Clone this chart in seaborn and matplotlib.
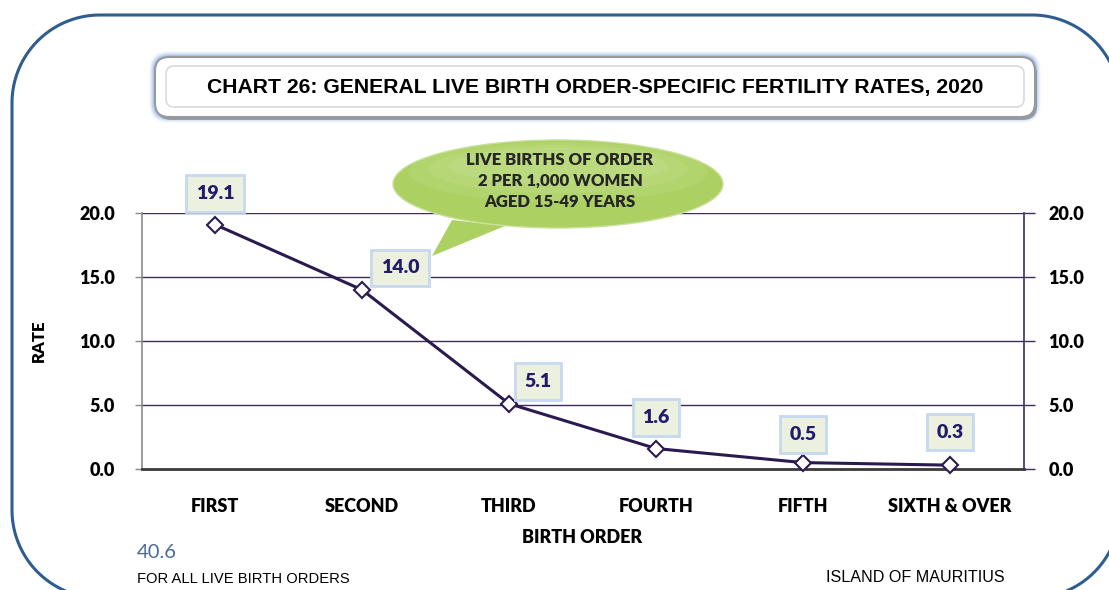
import matplotlib
matplotlib.use("Agg")
import matplotlib.pyplot as plt
from matplotlib.patches import FancyBboxPatch, Ellipse, Polygon
from matplotlib.transforms import Affine2D
import seaborn as sns
import numpy as np

# ---- data ----
birth_orders = ["FIRST", "SECOND", "THIRD", "FOURTH", "FIFTH", "SIXTH & OVER"]
rates = [19.1, 14.0, 5.1, 1.6, 0.5, 0.3]
y_ticks = [0.0, 5.0, 10.0, 15.0, 20.0]
total_rate = "40.6"

title = "CHART 26: GENERAL LIVE BIRTH ORDER-SPECIFIC FERTILITY RATES, 2020"
bubble_lines = "LIVE BIRTHS OF ORDER\n2 PER 1,000 WOMEN\nAGED 15-49 YEARS"

# label offsets (pixels) relative to each marker
label_offsets = [(0, 31), (38, 22), (29, 22), (0, 31), (0, 28), (0, 33)]

W, H = 1109, 590
LINE = "#2b1a4f"
GRID = "#3d2c5c"
LABEL = "#221a6b"
FONT = "Lato"

sns.set_theme(style="white")
plt.rcParams["font.family"] = [FONT, "DejaVu Sans"]

fig = plt.figure(figsize=(W / 100, H / 100), dpi=100)
fig.patch.set_facecolor("white")

# transform in figure pixels, origin top-left
PX = Affine2D().scale(1 / W, -1 / H).translate(0, 1) + fig.transFigure


def rounded_rect(x0, y0, x1, y1, r, n=60):
    """Closed outline of a rounded rectangle in pixel coordinates (y downward)."""
    pts = []
    corners = [(x0 + r, y0 + r, 180, 270), (x1 - r, y0 + r, 270, 360),
               (x1 - r, y1 - r, 0, 90), (x0 + r, y1 - r, 90, 180)]
    for cx, cy, a0, a1 in corners:
        t = np.radians(np.linspace(a0, a1, n))
        pts.extend(zip(cx + r * np.cos(t), cy + r * np.sin(t)))
    return np.array(pts)


# ---- outer rounded frame ----
frame = Polygon(rounded_rect(12, 15, 1120, 598, 88), closed=True, transform=PX,
                facecolor="none", edgecolor="#2f5d8f", lw=2.2, joinstyle="round", zorder=0)
fig.patches.append(frame)

# ---- title box with soft blue glow ----
for i, a in enumerate([0.05, 0.08, 0.12, 0.17, 0.22]):
    g = 6 - i
    glow = FancyBboxPatch((155 - g, 57 - g), 880 + 2 * g, 60 + 2 * g,
                          boxstyle=f"round,pad=0,rounding_size={14 + g}", transform=PX,
                          facecolor="#5f95dc", edgecolor="none", alpha=a, zorder=1)
    fig.patches.append(glow)
shadow = FancyBboxPatch((157, 60), 880, 60, boxstyle="round,pad=0,rounding_size=14",
                        transform=PX, facecolor="#7a7a7a", edgecolor="none", alpha=0.6, zorder=1)
fig.patches.append(shadow)
outer = FancyBboxPatch((155, 57), 880, 60, boxstyle="round,pad=0,rounding_size=14",
                       transform=PX, facecolor="white", edgecolor="#9a9a9a", lw=1.5, zorder=2)
fig.patches.append(outer)
inner = FancyBboxPatch((166, 66), 858, 41, boxstyle="round,pad=0,rounding_size=8",
                       transform=PX, facecolor="white", edgecolor="#dadada", lw=1.2, zorder=3)
fig.patches.append(inner)
fig.text(595 / W, 1 - 88 / H, title, ha="center", va="center", fontsize=15.2,
         fontweight="bold", color="black", family=["Liberation Sans", "DejaVu Sans"], zorder=4)

# ---- main axes ----
ax = fig.add_axes([141.5 / W, 121 / H, 882 / W, 256 / H])
ax.set_facecolor("none")
sns.lineplot(x=birth_orders, y=rates, ax=ax, color=LINE, lw=2.2, marker="D", markersize=8,
             markerfacecolor="white", markeredgecolor=LINE, markeredgewidth=1.5, zorder=5,
             clip_on=False)
ax.set_xlim(-0.5, len(birth_orders) - 0.5)
ax.set_ylim(0, 20)
ax.set_yticks(y_ticks)
ax.set_yticklabels([f"{v:.1f}" for v in y_ticks], fontsize=13, fontweight="heavy", color="black")
ax.set_xticks(range(len(birth_orders)))
ax.set_xticklabels(birth_orders, fontsize=13, fontweight="heavy", color="black")
ax.tick_params(axis="x", length=0, pad=21)
ax.tick_params(axis="y", length=5, width=1, color="#8a8a8a", direction="out", pad=14, left=True)
ax.grid(False)
for v in y_ticks[1:]:
    ax.axhline(v, color=GRID, lw=1.0, zorder=1)
for s in ["top", "right"]:
    ax.spines[s].set_visible(False)
ax.spines["left"].set_color("#8a8a8a")
ax.spines["left"].set_linewidth(1.2)
ax.spines["bottom"].set_color("#3a3a3a")
ax.spines["bottom"].set_linewidth(2)
ax.set_xlabel("BIRTH ORDER", fontsize=13, fontweight="heavy", color="black", labelpad=10)
ax.set_ylabel("RATE", fontsize=12, fontweight="heavy", color="black", labelpad=23)

# secondary axis on the right
ax2 = ax.twinx()
ax2.set_ylim(0, 20)
ax2.set_yticks(y_ticks)
ax2.set_yticklabels([f"{v:.1f}" for v in y_ticks], fontsize=13, fontweight="heavy", color="black")
ax2.tick_params(axis="y", length=8, width=1, color=GRID, direction="out", pad=10, right=True)
for s in ["top", "left", "bottom"]:
    ax2.spines[s].set_visible(False)
ax2.spines["right"].set_color(GRID)
ax2.spines["right"].set_linewidth(1.2)
ax2.grid(False)

# value labels
for i, (v, (dx, dy)) in enumerate(zip(rates, label_offsets)):
    ax.annotate(f"{v:.1f}", xy=(i, v), xytext=(dx, dy), textcoords="offset pixels",
                ha="center", va="center", fontsize=14, fontweight="heavy", color=LABEL,
                bbox=dict(boxstyle="square,pad=0.5", facecolor="#ebf1de",
                          edgecolor="#c6d9f1", lw=2), zorder=6, annotation_clip=False)

# ---- speech bubble ----
tail = Polygon([(452, 220), (432, 256), (505, 226)], closed=True, transform=PX,
               facecolor="#acd062", edgecolor="none", zorder=7)
fig.patches.append(tail)
bubble = Ellipse((558, 184), 330, 88, transform=PX, facecolor="#acd062",
                 edgecolor="#c9e09a", lw=1, zorder=7)
fig.patches.append(bubble)
for k in range(3):
    hl = Ellipse((558, 172 - 3 * k), 300 - 40 * k, 60 - 12 * k, transform=PX,
                 facecolor="#d2e7a4", edgecolor="none", alpha=0.18, zorder=7)
    fig.patches.append(hl)
fig.text(560 / W, 1 - 181 / H, bubble_lines, ha="center", va="center", fontsize=12,
         fontweight="heavy", color="#262626", linespacing=1.38, zorder=8)

# ---- footer texts ----
fig.text(137 / W, 1 - 553 / H, total_rate, ha="left", va="center", fontsize=14.5,
         color="#4a6a98", family=[FONT, "DejaVu Sans"])
fig.text(137 / W, 1 - 579 / H, "FOR ALL LIVE BIRTH ORDERS", ha="left", va="center",
         fontsize=10.6, color="black", family=["Liberation Sans", "DejaVu Sans"])
fig.text(826 / W, 1 - 578 / H, "ISLAND OF MAURITIUS", ha="left", va="center",
         fontsize=11.6, color="black", family=["Liberation Sans", "DejaVu Sans"])

fig.savefig("out.png", dpi=100, facecolor="white")
